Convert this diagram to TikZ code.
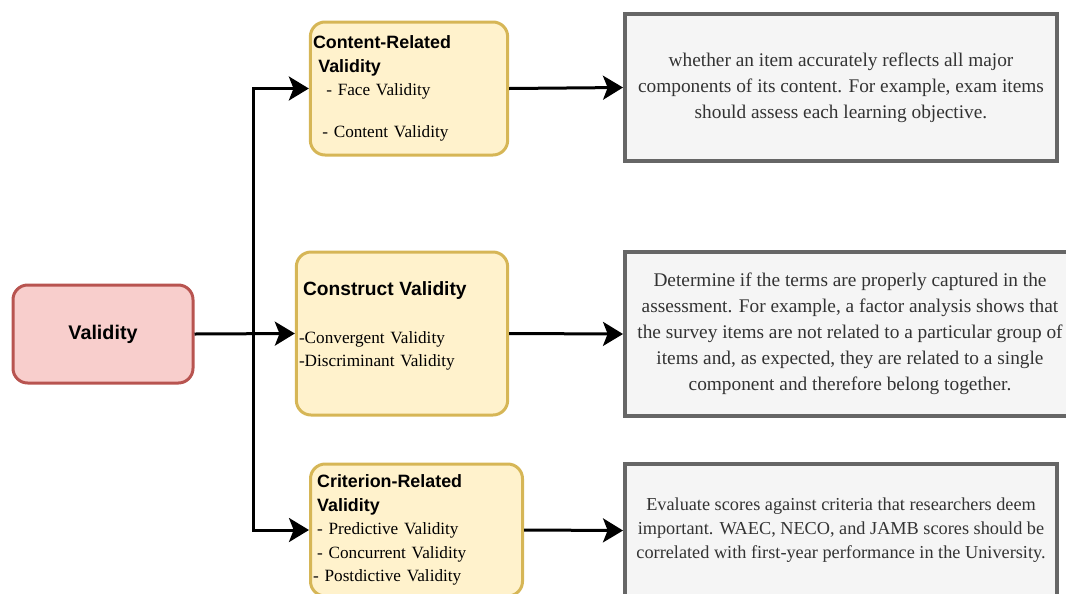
\documentclass[tikz,border=0pt]{standalone}
\usepackage{fontspec}
\setmainfont{Liberation Serif}
\setsansfont{Liberation Sans}
\usepackage{tikz}
\usetikzlibrary{arrows.meta}
\definecolor{rootfill}{HTML}{F8CECC}
\definecolor{rootline}{HTML}{B85450}
\definecolor{typefill}{HTML}{FFF2CC}
\definecolor{typeline}{HTML}{D6B656}
\definecolor{notefill}{HTML}{F5F5F5}
\definecolor{noteline}{HTML}{666666}
\definecolor{notetext}{HTML}{333333}
\tikzset{
  box/.style = {inner sep=0pt, rounded corners=11pt, line width=2.25pt},
  root/.style = {box, draw=rootline, fill=rootfill, minimum width=135pt,
    minimum height=73.5pt, font=\sffamily\bfseries\fontsize{14.8}{18}\selectfont},% noeud racine
  kind/.style = {box, draw=typeline, fill=typefill, align=left, inner xsep=2pt,
    font=\fontsize{12.9}{17.6}\selectfont},% type de validite
  note/.style = {draw=noteline, fill=notefill, line width=3pt, align=center,
    inner sep=0pt, text=notetext, font=\fontsize{14.5}{19.5}\selectfont},% explication
  link/.style = {line width=2.25pt, -{Stealth[length=15pt,width=18pt,inset=3.5pt]}}
}
\newcommand{\hd}[1]{{\sffamily\bfseries\fontsize{13.4}{17.6}\selectfont #1}}
\begin{document}
\begin{tikzpicture}[x=0.75pt,y=-0.75pt]
\clip (0,0) rectangle (1066,593);
\node [root] (validity) at (103,334) {Validity};
\node [kind, minimum width=147pt, minimum height=99.75pt, text width=144pt] (content) at (409,88.5)
  {\hd{Content-Related}\\
   \hspace{4pt}\hd{Validity}\\
   \hspace{10pt}- Face Validity\\[14pt]
   \hspace{7pt}- Content Validity};
\node [kind, minimum width=157.5pt, minimum height=122.25pt, text width=154.5pt] (construct) at (402,333.5)
  {\hspace{3pt}{\sffamily\bfseries\fontsize{14.4}{17.6}\selectfont Construct Validity}\\[18pt]
   -Convergent Validity\\
   -Discriminant Validity\\[-4pt]
   \mbox{}};
\node [kind, minimum width=158.25pt, minimum height=99pt, text width=155pt] (criterion) at (416.5,530)
  {\hspace{3pt}\hd{Criterion-Related}\\
   \hspace{3pt}\hd{Validity}\\
   \hspace{3pt}- Predictive Validity\\
   \hspace{3pt}- Concurrent Validity\\
   - Postdictive Validity};
\node [note, minimum width=324pt, minimum height=110.25pt] (whatcontent) at (841,87.5)
  {whether an item accurately reflects all major\\
   components of its content. For example, exam items\\
   should assess each learning objective.};
\node [note, minimum width=337.5pt, minimum height=123pt] (whatconstruct) at (850,334)
  {Determine if the terms are properly captured in the\\
   assessment. For example, a factor analysis shows that\\
   the survey items are not related to a particular group of\\
   items and, as expected, they are related to a single\\
   component and therefore belong together.};
\node [note, minimum width=324pt, minimum height=99.75pt, font=\fontsize{13.7}{18}\selectfont] (whatcriterion) at (841,530.5)
  {Evaluate scores against criteria that researchers deem\\
   important. WAEC, NECO, and JAMB scores should be\\
   correlated with first-year performance in the University.};
\coordinate (fork) at (253,334);
\draw [link] (validity.east) -- (construct.west);
\draw [link] (fork) |- (content.west);
\draw [link] (fork) |- (criterion.west);
\draw [link] (content.east) -- (whatcontent.west);
\draw [link] (construct.east) -- (whatconstruct.west);
\draw [link] (criterion.east) -- (whatcriterion.west);
\end{tikzpicture}
\end{document}
